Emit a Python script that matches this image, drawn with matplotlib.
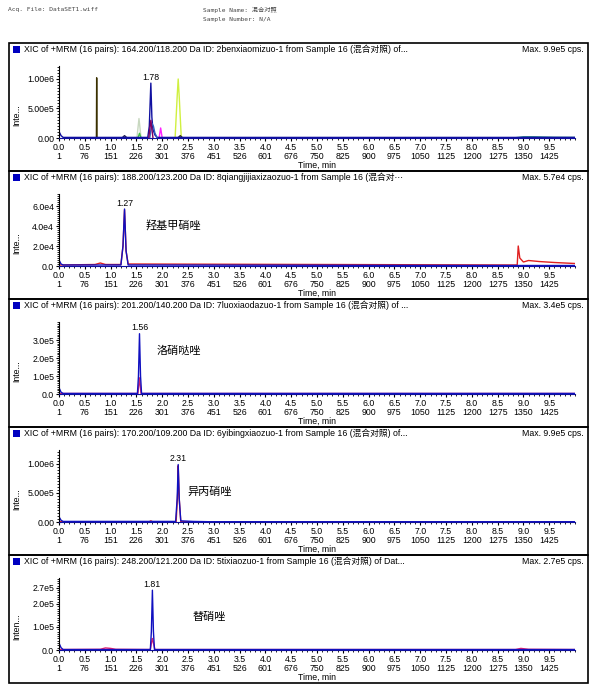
import matplotlib.pyplot as plt
from matplotlib.patches import Rectangle
from matplotlib.ticker import MultipleLocator, AutoMinorLocator

plt.rcParams['font.family'] = ['Liberation Sans', 'Noto Sans CJK SC']

W, H = 592, 688

time_ticks = [0.0, 0.5, 1.0, 1.5, 2.0, 2.5, 3.0, 3.5, 4.0, 4.5,
              5.0, 5.5, 6.0, 6.5, 7.0, 7.5, 8.0, 8.5, 9.0, 9.5]
scan_ticks = [1, 76, 151, 226, 301, 376, 451, 526, 601, 676,
              750, 825, 900, 975, 1050, 1125, 1200, 1275, 1350, 1425]

titles = [
    "XIC of +MRM (16 pairs): 164.200/118.200 Da ID: 2benxiaomizuo-1 from Sample 16 (混合对照) of...",
    "XIC of +MRM (16 pairs): 188.200/123.200 Da ID: 8qiangjijiaxizaozuo-1 from Sample 16 (混合对···",
    "XIC of +MRM (16 pairs): 201.200/140.200 Da ID: 7luoxiaodazuo-1 from Sample 16 (混合对照) of ...",
    "XIC of +MRM (16 pairs): 170.200/109.200 Da ID: 6yibingxiaozuo-1 from Sample 16 (混合对照) of...",
    "XIC of +MRM (16 pairs): 248.200/121.200 Da ID: 5tixiaozuo-1 from Sample 16 (混合对照) of Dat...",
]
max_cps = ["Max. 9.9e5 cps.", "Max. 5.7e4 cps.", "Max. 3.4e5 cps.", "Max. 9.9e5 cps.", "Max. 2.7e5 cps."]
compound_names = [None, "羟基甲硝唑", "洛硝哒唑", "异丙硝唑", "替硝唑"]
peak_rt = [1.78, 1.27, 1.56, 2.31, 1.81]
peak_height = [0.93e6, 5.7e4, 3.35e5, 0.99e6, 2.6e5]
ytick_vals = [[0, 5e5, 1e6], [0, 2e4, 4e4, 6e4], [0, 1e5, 2e5, 3e5],
              [0, 5e5, 1e6], [0, 1e5, 2e5, 2.7e5]]
ytick_labels = [["0.00", "5.00e5", "1.00e6"], ["0.0", "2.0e4", "4.0e4", "6.0e4"],
                ["0.0", "1.0e5", "2.0e5", "3.0e5"], ["0.00", "5.00e5", "1.00e6"],
                ["0.0", "1.0e5", "2.0e5", "2.7e5"]]
ytops = [1.22e6, 7.2e4, 4.0e5, 1.24e6, 3.13e5]
ylabels = ["Inte...", "Inte...", "Inte...", "Inte...", "Inten..."]

# traces: (times, intensities, colour), drawn in this order
traces1 = [
    ([0.725, 0.73, 0.735], [0, 1.02e6, 0], "#3a3000"),
    ([1.51, 1.55, 1.59], [0, 0.33e6, 0], "#c8d8c0"),
    ([1.53, 1.56, 1.59], [0, 0.08e6, 0], "#40c040"),
    ([1.94, 1.97, 2.00], [0, 0.17e6, 0], "#ff20ff"),
    ([2.25, 2.29, 2.31, 2.33, 2.37], [0, 0.7e6, 1.0e6, 0.7e6, 0], "#d0f040"),
    ([1.22, 1.27, 1.32], [0, 0.04e6, 0], "#202050"),
    ([2.30, 2.35, 2.40], [0, 0.04e6, 0], "#303020"),
    ([8.8, 9.0, 9.2, 9.6, 10.0], [0, 0.02e6, 0.02e6, 0.012e6, 0.01e6], "#208080"),
    ([0.0, 0.04, 0.08, 1.72, 1.75, 1.78, 1.80, 1.82, 1.86, 1.90, 10.0],
     [0.11e6, 0.04e6, 0.01e6, 0.01e6, 0.2e6, 0.93e6, 0.35e6, 0.15e6, 0.05e6, 0.01e6, 0.01e6], "#1010a0"),
    ([1.76, 1.80, 1.83, 1.86, 1.90], [0.01e6, 0.25e6, 0.2e6, 0.08e6, 0.01e6], "#3060c0"),
    ([1.74, 1.78, 1.82], [0.01e6, 0.3e6, 0.01e6], "#800060"),
]
traces2 = [
    ([0.0, 0.7, 0.8, 0.9, 1.20, 1.24, 1.27, 1.30, 1.34, 8.88, 8.90, 8.93, 9.0, 9.1, 9.3, 9.6, 10.0],
     [0.1e4, 0.15e4, 0.3e4, 0.15e4, 0.15e4, 2.0e4, 5.6e4, 1.5e4, 0.2e4, 0.1e4, 2.0e4, 0.8e4,
      0.4e4, 0.55e4, 0.45e4, 0.35e4, 0.25e4], "#e02020"),
    ([0.0, 0.04, 0.08, 1.20, 1.24, 1.27, 1.30, 1.34, 8.9, 10.0],
     [0.6e4, 0.2e4, 0.1e4, 0.1e4, 2.0e4, 5.7e4, 1.5e4, 0.1e4, 0.05e4, 0.05e4], "#1010c0"),
]
traces3 = [
    ([0.0, 1.53, 1.56, 1.59, 10.0], [0.03e5, 0.03e5, 0.9e5, 0.03e5, 0.03e5], "#d02070"),
    ([0.0, 0.04, 0.08, 1.52, 1.54, 1.56, 1.58, 1.60, 10.0],
     [0.35e5, 0.1e5, 0.03e5, 0.03e5, 1.0e5, 3.35e5, 1.0e5, 0.03e5, 0.03e5], "#1010c0"),
]
traces4 = [
    ([0.0, 1.75, 1.78, 1.81, 2.27, 2.30, 2.31, 2.33, 2.36, 10.0],
     [0.005e6, 0.005e6, 0.02e6, 0.005e6, 0.005e6, 0.5e6, 0.97e6, 0.4e6, 0.005e6, 0.005e6], "#e02020"),
    ([0.0, 0.04, 0.08, 2.26, 2.29, 2.31, 2.33, 2.36, 2.6, 2.9, 10.0],
     [0.09e6, 0.03e6, 0.01e6, 0.01e6, 0.4e6, 0.99e6, 0.4e6, 0.02e6, 0.01e6, 0.005e6, 0.005e6], "#1010c0"),
]
traces5 = [
    ([0.0, 0.8, 0.9, 1.0, 1.1, 1.77, 1.80, 1.81, 1.83, 1.86, 8.85, 8.95, 9.1, 10.0],
     [0.02e5, 0.03e5, 0.09e5, 0.07e5, 0.03e5, 0.02e5, 0.4e5, 0.5e5, 0.3e5, 0.02e5, 0.02e5,
      0.07e5, 0.03e5, 0.02e5], "#e02070"),
    ([0.0, 0.04, 0.08, 1.77, 1.79, 1.81, 1.83, 1.85, 10.0],
     [0.3e5, 0.1e5, 0.02e5, 0.02e5, 0.8e5, 2.6e5, 0.8e5, 0.02e5, 0.02e5], "#1010c0"),
]
all_traces = [traces1, traces2, traces3, traces4, traces5]

# pixel positions of compound name labels
name_pos = [None, (146, 226), (157, 351), (187, 492), (193, 617)]

fig = plt.figure(figsize=(W / 100, H / 100), dpi=100)


def fx(px):
    return px / W


def fy(py):
    return 1 - py / H


# header
mono = ['DejaVu Sans Mono', 'Noto Sans CJK SC']
fig.text(fx(8), fy(10), "Acq. File: DataSET1.wiff", family=mono, fontsize=4.5, color="#444444", va="center")
fig.text(fx(203), fy(10), "Sample Name: 混合对照", family=mono, fontsize=4.5, color="#444444", va="center")
fig.text(fx(203), fy(19), "Sample Number: N/A", family=mono, fontsize=4.5, color="#444444", va="center")

panel_top0 = 43
panel_h = 128
for i in range(5):
    top = panel_top0 + i * panel_h
    fig.patches.append(Rectangle((fx(9), fy(top + panel_h)), fx(579), panel_h / H,
                                 transform=fig.transFigure, fill=False, ec="black", lw=1.2))
    # blue square + title
    fig.patches.append(Rectangle((fx(13), fy(top + 10)), fx(7), 7 / H,
                                 transform=fig.transFigure, fc="#0000c0", ec="none"))
    fig.text(fx(24), fy(top + 6), titles[i], fontsize=6.3, va="center", ha="left")
    fig.text(fx(584), fy(top + 6), max_cps[i], fontsize=6.3, va="center", ha="right")

    base = top + 95
    ax = fig.add_axes([fx(59), fy(base), fx(516), 72 / H])
    for t, v, c in all_traces[i]:
        ax.plot(t, v, color=c, lw=1.0)
    ax.set_xlim(0, 10.0)
    ax.set_ylim(0, ytops[i])
    ax.spines['top'].set_visible(False)
    ax.spines['right'].set_visible(False)
    ax.spines['bottom'].set_color("#1010a0")
    ax.set_xticks(time_ticks)
    ax.set_xticklabels([f"{t:.1f}\n{s}" for t, s in zip(time_ticks, scan_ticks)], linespacing=1.05)
    ax.xaxis.set_minor_locator(MultipleLocator(0.1))
    ax.set_yticks(ytick_vals[i])
    ax.set_yticklabels(ytick_labels[i])
    ax.yaxis.set_minor_locator(AutoMinorLocator(10))
    ax.tick_params(labelsize=6.3, length=2.5, width=0.8, pad=1.0)
    ax.tick_params(which="minor", length=1.2, width=0.6)
    ax.set_xlabel("Time, min", fontsize=6.3, labelpad=-0.5)
    fig.text(fx(17), fy(base - 23), ylabels[i], rotation=90, fontsize=6.3, va="center", ha="center")
    ax.text(peak_rt[i], peak_height[i] + ytops[i] * 0.02, f"{peak_rt[i]:.2f}",
            fontsize=6.3, ha="center", va="bottom")
    if compound_names[i]:
        nx, ny = name_pos[i]
        fig.text(fx(nx), fy(ny), compound_names[i], fontsize=8, va="center", ha="left",
                 family=['Noto Sans CJK SC'])

fig.savefig("out.png", dpi=100)
